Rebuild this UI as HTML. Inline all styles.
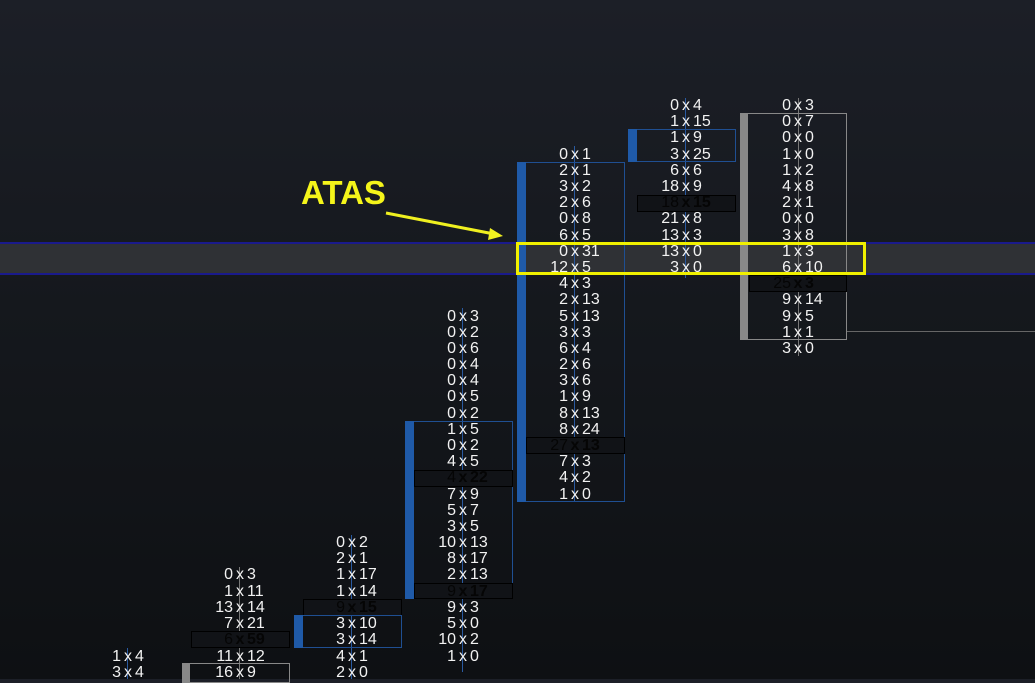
<!DOCTYPE html>
<html><head><style>
html,body{margin:0;padding:0}
body{width:1035px;height:679px;overflow:hidden;position:relative;background:linear-gradient(#1c1f27,#15181d 45%,#0e1013);font-family:"Liberation Sans",sans-serif}
.a{position:absolute}
.r{position:absolute;width:120px;height:16px;line-height:16px;font-size:16px;color:#f2f2f2;display:flex;white-space:nowrap;margin-top:1px}
.r b{font-weight:normal;width:53px;text-align:right}
.r s{text-decoration:none;width:14px;text-align:center}
.r i{font-style:normal;width:53px;text-align:left}
.p{color:#050505;font-weight:bold}
.box{position:absolute;border:1px solid #1f4f92;box-sizing:border-box}
.bar{position:absolute;background:#1f5aa8}
.poc{position:absolute;border:1px solid #000;box-sizing:border-box;background:#111317}
.w{position:absolute;width:1px;background:#2a5aa0}
</style></head><body>
<div class="a" style="left:0;top:242px;width:1035px;height:32px;background:#2f3135"></div>
<div class="a" style="left:0;top:242px;width:1035px;height:2px;background:#1a1a8c"></div>
<div class="a" style="left:0;top:273px;width:1035px;height:2px;background:#1a1a8c"></div>
<div class="a" style="left:798px;top:98px;width:1px;height:258px;background:#777"></div>
<div class="a" style="left:740px;top:113px;width:107px;height:227px;border:1px solid #888;box-sizing:border-box"></div>
<div class="a" style="left:740px;top:113px;width:8px;height:227px;background:#888"></div>
<div class="a" style="left:847px;top:331px;width:188px;height:1px;background:#666"></div>
<div class="poc" style="left:749px;top:275px;width:98px;height:17px"></div>
<div class="w" style="left:685px;top:98px;height:180px"></div>
<div class="box" style="left:628px;top:129px;width:108px;height:33px"></div>
<div class="bar" style="left:628px;top:129px;width:9px;height:33px"></div>
<div class="poc" style="left:637px;top:195px;width:99px;height:17px"></div>
<div class="w" style="left:574px;top:146px;height:356px"></div>
<div class="box" style="left:517px;top:162px;width:108px;height:340px"></div>
<div class="bar" style="left:517px;top:162px;width:9px;height:340px"></div>
<div class="poc" style="left:526px;top:437px;width:99px;height:17px"></div>
<div class="w" style="left:462px;top:308px;height:364px"></div>
<div class="box" style="left:405px;top:421px;width:108px;height:178px"></div>
<div class="bar" style="left:405px;top:421px;width:9px;height:178px"></div>
<div class="poc" style="left:414px;top:470px;width:99px;height:17px"></div>
<div class="poc" style="left:414px;top:583px;width:99px;height:16px"></div>
<div class="w" style="left:351px;top:535px;height:144px"></div>
<div class="poc" style="left:303px;top:599px;width:99px;height:17px"></div>
<div class="box" style="left:294px;top:615px;width:108px;height:33px"></div>
<div class="bar" style="left:294px;top:615px;width:9px;height:33px"></div>
<div class="a" style="left:239px;top:567px;width:1px;height:112px;background:#777"></div>
<div class="poc" style="left:191px;top:631px;width:99px;height:17px"></div>
<div class="a" style="left:182px;top:663px;width:108px;height:20px;border:1px solid #888;box-sizing:border-box"></div>
<div class="a" style="left:182px;top:663px;width:8px;height:20px;background:#888"></div>
<div class="w" style="left:127px;top:648px;height:31px"></div>

<div class="a" style="left:516px;top:242px;width:350px;height:33px;border:3px solid #f0f000;box-sizing:border-box"></div>
<div class="a" style="left:301px;top:174px;font-size:33px;font-weight:bold;color:#f5f51a">ATAS</div>
<svg class="a" style="left:0;top:0" width="1035" height="679"><line x1="386" y1="213" x2="494" y2="234" stroke="#f0f020" stroke-width="3"/><polygon points="503,236 490,228 488,240" fill="#f0f020"/></svg>

<div class="r" style="left:738px;top:97px"><b>0</b><s>x</s><i>3</i></div>
<div class="r" style="left:738px;top:113px"><b>0</b><s>x</s><i>7</i></div>
<div class="r" style="left:738px;top:129px"><b>0</b><s>x</s><i>0</i></div>
<div class="r" style="left:738px;top:146px"><b>1</b><s>x</s><i>0</i></div>
<div class="r" style="left:738px;top:162px"><b>1</b><s>x</s><i>2</i></div>
<div class="r" style="left:738px;top:178px"><b>4</b><s>x</s><i>8</i></div>
<div class="r" style="left:738px;top:194px"><b>2</b><s>x</s><i>1</i></div>
<div class="r" style="left:738px;top:210px"><b>0</b><s>x</s><i>0</i></div>
<div class="r" style="left:738px;top:227px"><b>3</b><s>x</s><i>8</i></div>
<div class="r" style="left:738px;top:243px"><b>1</b><s>x</s><i>3</i></div>
<div class="r" style="left:738px;top:259px"><b>6</b><s>x</s><i>10</i></div>
<div class="r p" style="left:738px;top:275px"><b>25</b><s>x</s><i>3</i></div>
<div class="r" style="left:738px;top:291px"><b>9</b><s>x</s><i>14</i></div>
<div class="r" style="left:738px;top:308px"><b>9</b><s>x</s><i>5</i></div>
<div class="r" style="left:738px;top:324px"><b>1</b><s>x</s><i>1</i></div>
<div class="r" style="left:738px;top:340px"><b>3</b><s>x</s><i>0</i></div>
<div class="r" style="left:626px;top:97px"><b>0</b><s>x</s><i>4</i></div>
<div class="r" style="left:626px;top:113px"><b>1</b><s>x</s><i>15</i></div>
<div class="r" style="left:626px;top:129px"><b>1</b><s>x</s><i>9</i></div>
<div class="r" style="left:626px;top:146px"><b>3</b><s>x</s><i>25</i></div>
<div class="r" style="left:626px;top:162px"><b>6</b><s>x</s><i>6</i></div>
<div class="r" style="left:626px;top:178px"><b>18</b><s>x</s><i>9</i></div>
<div class="r p" style="left:626px;top:194px"><b>18</b><s>x</s><i>15</i></div>
<div class="r" style="left:626px;top:210px"><b>21</b><s>x</s><i>8</i></div>
<div class="r" style="left:626px;top:227px"><b>13</b><s>x</s><i>3</i></div>
<div class="r" style="left:626px;top:243px"><b>13</b><s>x</s><i>0</i></div>
<div class="r" style="left:626px;top:259px"><b>3</b><s>x</s><i>0</i></div>
<div class="r" style="left:515px;top:146px"><b>0</b><s>x</s><i>1</i></div>
<div class="r" style="left:515px;top:162px"><b>2</b><s>x</s><i>1</i></div>
<div class="r" style="left:515px;top:178px"><b>3</b><s>x</s><i>2</i></div>
<div class="r" style="left:515px;top:194px"><b>2</b><s>x</s><i>6</i></div>
<div class="r" style="left:515px;top:210px"><b>0</b><s>x</s><i>8</i></div>
<div class="r" style="left:515px;top:227px"><b>6</b><s>x</s><i>5</i></div>
<div class="r" style="left:515px;top:243px"><b>0</b><s>x</s><i>31</i></div>
<div class="r" style="left:515px;top:259px"><b>12</b><s>x</s><i>5</i></div>
<div class="r" style="left:515px;top:275px"><b>4</b><s>x</s><i>3</i></div>
<div class="r" style="left:515px;top:291px"><b>2</b><s>x</s><i>13</i></div>
<div class="r" style="left:515px;top:308px"><b>5</b><s>x</s><i>13</i></div>
<div class="r" style="left:515px;top:324px"><b>3</b><s>x</s><i>3</i></div>
<div class="r" style="left:515px;top:340px"><b>6</b><s>x</s><i>4</i></div>
<div class="r" style="left:515px;top:356px"><b>2</b><s>x</s><i>6</i></div>
<div class="r" style="left:515px;top:372px"><b>3</b><s>x</s><i>6</i></div>
<div class="r" style="left:515px;top:388px"><b>1</b><s>x</s><i>9</i></div>
<div class="r" style="left:515px;top:405px"><b>8</b><s>x</s><i>13</i></div>
<div class="r" style="left:515px;top:421px"><b>8</b><s>x</s><i>24</i></div>
<div class="r p" style="left:515px;top:437px"><b>27</b><s>x</s><i>13</i></div>
<div class="r" style="left:515px;top:453px"><b>7</b><s>x</s><i>3</i></div>
<div class="r" style="left:515px;top:469px"><b>4</b><s>x</s><i>2</i></div>
<div class="r" style="left:515px;top:486px"><b>1</b><s>x</s><i>0</i></div>
<div class="r" style="left:403px;top:308px"><b>0</b><s>x</s><i>3</i></div>
<div class="r" style="left:403px;top:324px"><b>0</b><s>x</s><i>2</i></div>
<div class="r" style="left:403px;top:340px"><b>0</b><s>x</s><i>6</i></div>
<div class="r" style="left:403px;top:356px"><b>0</b><s>x</s><i>4</i></div>
<div class="r" style="left:403px;top:372px"><b>0</b><s>x</s><i>4</i></div>
<div class="r" style="left:403px;top:388px"><b>0</b><s>x</s><i>5</i></div>
<div class="r" style="left:403px;top:405px"><b>0</b><s>x</s><i>2</i></div>
<div class="r" style="left:403px;top:421px"><b>1</b><s>x</s><i>5</i></div>
<div class="r" style="left:403px;top:437px"><b>0</b><s>x</s><i>2</i></div>
<div class="r" style="left:403px;top:453px"><b>4</b><s>x</s><i>5</i></div>
<div class="r p" style="left:403px;top:469px"><b>4</b><s>x</s><i>22</i></div>
<div class="r" style="left:403px;top:486px"><b>7</b><s>x</s><i>9</i></div>
<div class="r" style="left:403px;top:502px"><b>5</b><s>x</s><i>7</i></div>
<div class="r" style="left:403px;top:518px"><b>3</b><s>x</s><i>5</i></div>
<div class="r" style="left:403px;top:534px"><b>10</b><s>x</s><i>13</i></div>
<div class="r" style="left:403px;top:550px"><b>8</b><s>x</s><i>17</i></div>
<div class="r" style="left:403px;top:566px"><b>2</b><s>x</s><i>13</i></div>
<div class="r p" style="left:403px;top:583px"><b>9</b><s>x</s><i>17</i></div>
<div class="r" style="left:403px;top:599px"><b>9</b><s>x</s><i>3</i></div>
<div class="r" style="left:403px;top:615px"><b>5</b><s>x</s><i>0</i></div>
<div class="r" style="left:403px;top:631px"><b>10</b><s>x</s><i>2</i></div>
<div class="r" style="left:403px;top:648px"><b>1</b><s>x</s><i>0</i></div>
<div class="r" style="left:292px;top:534px"><b>0</b><s>x</s><i>2</i></div>
<div class="r" style="left:292px;top:550px"><b>2</b><s>x</s><i>1</i></div>
<div class="r" style="left:292px;top:566px"><b>1</b><s>x</s><i>17</i></div>
<div class="r" style="left:292px;top:583px"><b>1</b><s>x</s><i>14</i></div>
<div class="r p" style="left:292px;top:599px"><b>9</b><s>x</s><i>15</i></div>
<div class="r" style="left:292px;top:615px"><b>3</b><s>x</s><i>10</i></div>
<div class="r" style="left:292px;top:631px"><b>3</b><s>x</s><i>14</i></div>
<div class="r" style="left:292px;top:648px"><b>4</b><s>x</s><i>1</i></div>
<div class="r" style="left:292px;top:664px"><b>2</b><s>x</s><i>0</i></div>
<div class="r" style="left:180px;top:566px"><b>0</b><s>x</s><i>3</i></div>
<div class="r" style="left:180px;top:583px"><b>1</b><s>x</s><i>11</i></div>
<div class="r" style="left:180px;top:599px"><b>13</b><s>x</s><i>14</i></div>
<div class="r" style="left:180px;top:615px"><b>7</b><s>x</s><i>21</i></div>
<div class="r p" style="left:180px;top:631px"><b>6</b><s>x</s><i>59</i></div>
<div class="r" style="left:180px;top:648px"><b>11</b><s>x</s><i>12</i></div>
<div class="r" style="left:180px;top:664px"><b>16</b><s>x</s><i>9</i></div>
<div class="r" style="left:68px;top:648px"><b>1</b><s>x</s><i>4</i></div>
<div class="r" style="left:68px;top:664px"><b>3</b><s>x</s><i>4</i></div>
</body></html>
